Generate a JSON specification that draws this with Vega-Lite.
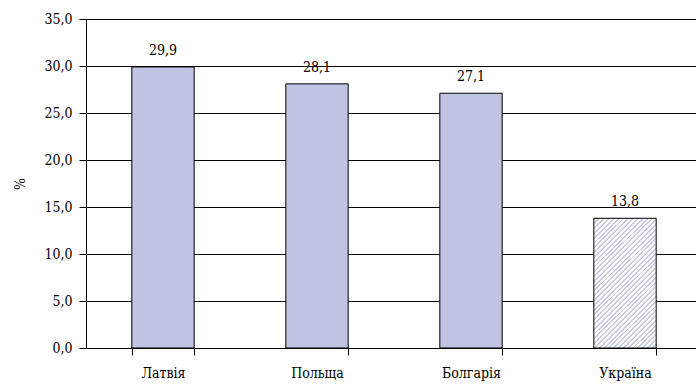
{
  "$schema": "https://vega.github.io/schema/vega-lite/v6.json",
  "width": 616,
  "height": 329,
  "autosize": {"type": "none"},
  "padding": {"left": 86, "top": 19, "right": 0, "bottom": 40},
  "config": {
    "view": {"stroke": null},
    "font": "DejaVu Serif Condensed",
    "locale": {
      "number": {"decimal": ",", "thousands": " ", "grouping": [3], "currency": ["", ""]}
    },
    "axis": {
      "domainColor": "#000000",
      "tickColor": "#000000",
      "tickSize": 7,
      "labelColor": "#000000",
      "labelFont": "DejaVu Serif Condensed",
      "labelFontSize": 14,
      "titleFont": "DejaVu Serif Condensed",
      "titleFontSize": 14,
      "titleFontWeight": "normal",
      "titleColor": "#000000"
    }
  },
  "data": {
    "values": [
      {"country": "Латвія", "value": 29.9, "kind": "solid"},
      {"country": "Польща", "value": 28.1, "kind": "solid"},
      {"country": "Болгарія", "value": 27.1, "kind": "solid"},
      {"country": "Україна", "value": 13.8, "kind": "hatched"}
    ]
  },
  "encoding": {
    "x": {
      "field": "country",
      "type": "nominal",
      "sort": null,
      "scale": {"paddingInner": 0.595, "paddingOuter": 0.2975},
      "axis": {"title": null, "labelAngle": 0, "tickBand": "extent", "labelPadding": 11, "grid": false}
    },
    "y": {
      "field": "value",
      "type": "quantitative",
      "scale": {"domain": [0, 35], "nice": false},
      "axis": {
        "title": "%",
        "values": [0, 5, 10, 15, 20, 25, 30, 35],
        "format": ".1f",
        "labelPadding": 7,
        "titlePadding": 16,
        "grid": true,
        "gridColor": "#000000",
        "gridOpacity": 1
      }
    }
  },
  "layer": [
    {
      "transform": [{"filter": "datum.kind === 'solid'"}],
      "mark": {"type": "bar", "fill": "#c0c4e2", "stroke": "#000000", "strokeWidth": 1}
    },
    {
      "transform": [{"filter": "datum.kind === 'hatched'"}],
      "mark": {
        "type": "bar",
        "stroke": "#000000",
        "strokeWidth": 1,
        "fill": {
          "gradient": "linear",
          "x1": 0, "y1": 0, "x2": 0.574, "y2": 1.203,
          "stops": [
            {"offset": 0, "color": "#c6c9e6"}, {"offset": 0.01, "color": "#c6c9e6"}, {"offset": 0.01, "color": "#ffffff"}, {"offset": 0.025, "color": "#ffffff"},
            {"offset": 0.025, "color": "#c6c9e6"}, {"offset": 0.035, "color": "#c6c9e6"}, {"offset": 0.035, "color": "#ffffff"}, {"offset": 0.05, "color": "#ffffff"},
            {"offset": 0.05, "color": "#c6c9e6"}, {"offset": 0.06, "color": "#c6c9e6"}, {"offset": 0.06, "color": "#ffffff"}, {"offset": 0.075, "color": "#ffffff"},
            {"offset": 0.075, "color": "#c6c9e6"}, {"offset": 0.085, "color": "#c6c9e6"}, {"offset": 0.085, "color": "#ffffff"}, {"offset": 0.1, "color": "#ffffff"},
            {"offset": 0.1, "color": "#c6c9e6"}, {"offset": 0.11, "color": "#c6c9e6"}, {"offset": 0.11, "color": "#ffffff"}, {"offset": 0.125, "color": "#ffffff"},
            {"offset": 0.125, "color": "#c6c9e6"}, {"offset": 0.135, "color": "#c6c9e6"}, {"offset": 0.135, "color": "#ffffff"}, {"offset": 0.15, "color": "#ffffff"},
            {"offset": 0.15, "color": "#c6c9e6"}, {"offset": 0.16, "color": "#c6c9e6"}, {"offset": 0.16, "color": "#ffffff"}, {"offset": 0.175, "color": "#ffffff"},
            {"offset": 0.175, "color": "#c6c9e6"}, {"offset": 0.185, "color": "#c6c9e6"}, {"offset": 0.185, "color": "#ffffff"}, {"offset": 0.2, "color": "#ffffff"},
            {"offset": 0.2, "color": "#c6c9e6"}, {"offset": 0.21, "color": "#c6c9e6"}, {"offset": 0.21, "color": "#ffffff"}, {"offset": 0.225, "color": "#ffffff"},
            {"offset": 0.225, "color": "#c6c9e6"}, {"offset": 0.235, "color": "#c6c9e6"}, {"offset": 0.235, "color": "#ffffff"}, {"offset": 0.25, "color": "#ffffff"},
            {"offset": 0.25, "color": "#c6c9e6"}, {"offset": 0.26, "color": "#c6c9e6"}, {"offset": 0.26, "color": "#ffffff"}, {"offset": 0.275, "color": "#ffffff"},
            {"offset": 0.275, "color": "#c6c9e6"}, {"offset": 0.285, "color": "#c6c9e6"}, {"offset": 0.285, "color": "#ffffff"}, {"offset": 0.3, "color": "#ffffff"},
            {"offset": 0.3, "color": "#c6c9e6"}, {"offset": 0.31, "color": "#c6c9e6"}, {"offset": 0.31, "color": "#ffffff"}, {"offset": 0.325, "color": "#ffffff"},
            {"offset": 0.325, "color": "#c6c9e6"}, {"offset": 0.335, "color": "#c6c9e6"}, {"offset": 0.335, "color": "#ffffff"}, {"offset": 0.35, "color": "#ffffff"},
            {"offset": 0.35, "color": "#c6c9e6"}, {"offset": 0.36, "color": "#c6c9e6"}, {"offset": 0.36, "color": "#ffffff"}, {"offset": 0.375, "color": "#ffffff"},
            {"offset": 0.375, "color": "#c6c9e6"}, {"offset": 0.385, "color": "#c6c9e6"}, {"offset": 0.385, "color": "#ffffff"}, {"offset": 0.4, "color": "#ffffff"},
            {"offset": 0.4, "color": "#c6c9e6"}, {"offset": 0.41, "color": "#c6c9e6"}, {"offset": 0.41, "color": "#ffffff"}, {"offset": 0.425, "color": "#ffffff"},
            {"offset": 0.425, "color": "#c6c9e6"}, {"offset": 0.435, "color": "#c6c9e6"}, {"offset": 0.435, "color": "#ffffff"}, {"offset": 0.45, "color": "#ffffff"},
            {"offset": 0.45, "color": "#c6c9e6"}, {"offset": 0.46, "color": "#c6c9e6"}, {"offset": 0.46, "color": "#ffffff"}, {"offset": 0.475, "color": "#ffffff"},
            {"offset": 0.475, "color": "#c6c9e6"}, {"offset": 0.485, "color": "#c6c9e6"}, {"offset": 0.485, "color": "#ffffff"}, {"offset": 0.5, "color": "#ffffff"},
            {"offset": 0.5, "color": "#c6c9e6"}, {"offset": 0.51, "color": "#c6c9e6"}, {"offset": 0.51, "color": "#ffffff"}, {"offset": 0.525, "color": "#ffffff"},
            {"offset": 0.525, "color": "#c6c9e6"}, {"offset": 0.535, "color": "#c6c9e6"}, {"offset": 0.535, "color": "#ffffff"}, {"offset": 0.55, "color": "#ffffff"},
            {"offset": 0.55, "color": "#c6c9e6"}, {"offset": 0.56, "color": "#c6c9e6"}, {"offset": 0.56, "color": "#ffffff"}, {"offset": 0.575, "color": "#ffffff"},
            {"offset": 0.575, "color": "#c6c9e6"}, {"offset": 0.585, "color": "#c6c9e6"}, {"offset": 0.585, "color": "#ffffff"}, {"offset": 0.6, "color": "#ffffff"},
            {"offset": 0.6, "color": "#c6c9e6"}, {"offset": 0.61, "color": "#c6c9e6"}, {"offset": 0.61, "color": "#ffffff"}, {"offset": 0.625, "color": "#ffffff"},
            {"offset": 0.625, "color": "#c6c9e6"}, {"offset": 0.635, "color": "#c6c9e6"}, {"offset": 0.635, "color": "#ffffff"}, {"offset": 0.65, "color": "#ffffff"},
            {"offset": 0.65, "color": "#c6c9e6"}, {"offset": 0.66, "color": "#c6c9e6"}, {"offset": 0.66, "color": "#ffffff"}, {"offset": 0.675, "color": "#ffffff"},
            {"offset": 0.675, "color": "#c6c9e6"}, {"offset": 0.685, "color": "#c6c9e6"}, {"offset": 0.685, "color": "#ffffff"}, {"offset": 0.7, "color": "#ffffff"},
            {"offset": 0.7, "color": "#c6c9e6"}, {"offset": 0.71, "color": "#c6c9e6"}, {"offset": 0.71, "color": "#ffffff"}, {"offset": 0.725, "color": "#ffffff"},
            {"offset": 0.725, "color": "#c6c9e6"}, {"offset": 0.735, "color": "#c6c9e6"}, {"offset": 0.735, "color": "#ffffff"}, {"offset": 0.75, "color": "#ffffff"},
            {"offset": 0.75, "color": "#c6c9e6"}, {"offset": 0.76, "color": "#c6c9e6"}, {"offset": 0.76, "color": "#ffffff"}, {"offset": 0.775, "color": "#ffffff"},
            {"offset": 0.775, "color": "#c6c9e6"}, {"offset": 0.785, "color": "#c6c9e6"}, {"offset": 0.785, "color": "#ffffff"}, {"offset": 0.8, "color": "#ffffff"},
            {"offset": 0.8, "color": "#c6c9e6"}, {"offset": 0.81, "color": "#c6c9e6"}, {"offset": 0.81, "color": "#ffffff"}, {"offset": 0.825, "color": "#ffffff"},
            {"offset": 0.825, "color": "#c6c9e6"}, {"offset": 0.835, "color": "#c6c9e6"}, {"offset": 0.835, "color": "#ffffff"}, {"offset": 0.85, "color": "#ffffff"},
            {"offset": 0.85, "color": "#c6c9e6"}, {"offset": 0.86, "color": "#c6c9e6"}, {"offset": 0.86, "color": "#ffffff"}, {"offset": 0.875, "color": "#ffffff"},
            {"offset": 0.875, "color": "#c6c9e6"}, {"offset": 0.885, "color": "#c6c9e6"}, {"offset": 0.885, "color": "#ffffff"}, {"offset": 0.9, "color": "#ffffff"},
            {"offset": 0.9, "color": "#c6c9e6"}, {"offset": 0.91, "color": "#c6c9e6"}, {"offset": 0.91, "color": "#ffffff"}, {"offset": 0.925, "color": "#ffffff"},
            {"offset": 0.925, "color": "#c6c9e6"}, {"offset": 0.935, "color": "#c6c9e6"}, {"offset": 0.935, "color": "#ffffff"}, {"offset": 0.95, "color": "#ffffff"},
            {"offset": 0.95, "color": "#c6c9e6"}, {"offset": 0.96, "color": "#c6c9e6"}, {"offset": 0.96, "color": "#ffffff"}, {"offset": 0.975, "color": "#ffffff"},
            {"offset": 0.975, "color": "#c6c9e6"}, {"offset": 0.985, "color": "#c6c9e6"}, {"offset": 0.985, "color": "#ffffff"}, {"offset": 1, "color": "#ffffff"}
          ]
        }
      }
    },
    {
      "mark": {"type": "text", "font": "DejaVu Serif Condensed", "fontSize": 14, "color": "#000000", "baseline": "alphabetic", "dy": -12},
      "encoding": {"text": {"field": "value", "type": "quantitative", "format": ".1f"}}
    }
  ]
}
